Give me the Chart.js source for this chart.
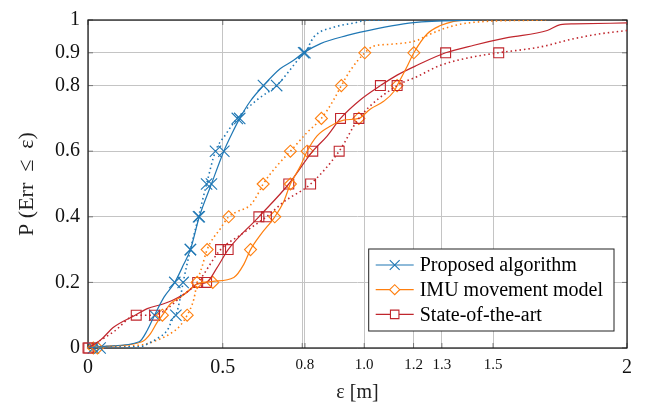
<!DOCTYPE html>
<html>
<head>
<meta charset="utf-8">
<script src="https://cdn.jsdelivr.net/npm/chart.js@4"></script>
<style>
  body { margin: 0; background: #fff; }
  #wrap { width: 648px; height: 411px; }
</style>
</head>
<body>
<div id="wrap"><canvas id="cdf"></canvas></div>
<script>
// ---- data (x = error in m, y = CDF) ----
const markY = [0, 0.1, 0.2, 0.3, 0.4, 0.5, 0.6, 0.7, 0.8, 0.9];

const propSolidX = [0, 0.07, 0.19, 0.22, 0.247, 0.282, 0.322, 0.355, 0.38, 0.413, 0.458, 0.504, 0.532, 0.563, 0.6, 0.651, 0.714, 0.763, 0.80, 0.863, 0.962, 1.011, 1.208, 1.45];
const propSolidY = [0, 0.006, 0.019, 0.054, 0.1, 0.155, 0.2, 0.255, 0.3, 0.4, 0.5, 0.6, 0.65, 0.7, 0.75, 0.8, 0.852, 0.877, 0.9, 0.928, 0.953, 0.963, 0.992, 1.0];
const propSolidMarkX = [0.02, 0.247, 0.322, 0.38, 0.413, 0.458, 0.504, 0.563, 0.651, 0.80];

const propDotX = [0, 0.06, 0.195, 0.22, 0.257, 0.294, 0.318, 0.326, 0.343, 0.353, 0.38, 0.41, 0.44, 0.473, 0.51, 0.554, 0.628, 0.70, 0.739, 0.789, 0.805, 0.838, 0.912, 0.999, 1.02, 1.12];
const propDotY = [0, 0.003, 0.004, 0.012, 0.029, 0.054, 0.094, 0.1, 0.155, 0.2, 0.3, 0.4, 0.5, 0.6, 0.65, 0.7, 0.757, 0.8, 0.837, 0.888, 0.9, 0.948, 0.978, 0.993, 0.998, 1.0];
const propDotMarkX = [0.045, 0.326, 0.353, 0.38, 0.41, 0.44, 0.473, 0.554, 0.70, 0.805];

const imuSolidX = [0, 0.07, 0.2, 0.232, 0.257, 0.276, 0.306, 0.343, 0.38, 0.405, 0.463, 0.541, 0.578, 0.603, 0.64, 0.693, 0.726, 0.751, 0.789, 0.813, 0.85, 0.9, 0.949, 1.005, 1.048, 1.097, 1.135, 1.147, 1.184, 1.209, 1.259, 1.308, 1.357, 1.40];
const imuSolidY = [0, 0.005, 0.019, 0.044, 0.079, 0.1, 0.135, 0.155, 0.18, 0.195, 0.203, 0.215, 0.255, 0.3, 0.345, 0.4, 0.446, 0.5, 0.556, 0.6, 0.647, 0.677, 0.695, 0.7, 0.729, 0.752, 0.782, 0.8, 0.858, 0.9, 0.958, 0.983, 0.996, 1.0];
const imuSolidMarkX = [0.02, 0.276, 0.463, 0.603, 0.693, 0.751, 0.813, 1.005, 1.147, 1.209];

const imuDotX = [0, 0.05, 0.195, 0.257, 0.306, 0.343, 0.368, 0.393, 0.405, 0.424, 0.442, 0.492, 0.522, 0.554, 0.603, 0.628, 0.65, 0.702, 0.751, 0.813, 0.866, 0.912, 0.94, 0.974, 1.027, 1.058, 1.122, 1.222, 1.259, 1.345, 1.432, 1.70];
const imuDotY = [0, 0.004, 0.009, 0.024, 0.044, 0.069, 0.1, 0.15, 0.2, 0.25, 0.3, 0.365, 0.4, 0.416, 0.436, 0.466, 0.5, 0.556, 0.6, 0.657, 0.7, 0.757, 0.8, 0.847, 0.9, 0.92, 0.926, 0.938, 0.953, 0.98, 0.993, 1.0];
const imuDotMarkX = [0.035, 0.368, 0.405, 0.442, 0.522, 0.65, 0.751, 0.866, 0.94, 1.027];

const soaSolidX = [0, 0.046, 0.096, 0.175, 0.22, 0.281, 0.312, 0.368, 0.405, 0.44, 0.479, 0.52, 0.634, 0.745, 0.834, 0.888, 0.937, 1.011, 1.085, 1.147, 1.221, 1.327, 1.432, 1.556, 1.704, 1.753, 1.803, 2.0];
const soaSolidY = [0, 0.024, 0.064, 0.1, 0.12, 0.135, 0.145, 0.17, 0.195, 0.2, 0.245, 0.3, 0.4, 0.5, 0.6, 0.647, 0.7, 0.757, 0.8, 0.832, 0.862, 0.9, 0.923, 0.946, 0.968, 0.986, 0.988, 0.991];
const soaSolidMarkX = [0.003, 0.179, 0.44, 0.52, 0.634, 0.745, 0.834, 0.937, 1.085, 1.327];

const soaDotX = [0, 0.096, 0.179, 0.247, 0.294, 0.343, 0.407, 0.492, 0.566, 0.662, 0.727, 0.826, 0.932, 1.005, 1.147, 1.22, 1.308, 1.432, 1.524, 1.679, 1.803, 1.902, 2.0];
const soaDotY = [0, 0.05, 0.1, 0.1, 0.12, 0.155, 0.2, 0.3, 0.345, 0.4, 0.446, 0.5, 0.6, 0.7, 0.8, 0.827, 0.862, 0.888, 0.9, 0.918, 0.943, 0.958, 0.968];
const soaDotMarkX = [0.0, 0.247, 0.407, 0.492, 0.662, 0.826, 0.932, 1.005, 1.147, 1.524];

const xTickVals = [0, 0.5, 0.795, 0.805, 1.025, 1.208, 1.313, 1.503, 2];
const xTickLabels = ['0', '0.5', '', '0.8', '1.0', '1.2', '1.3', '1.5', '2'];
const yTickVals = [0, 0.2, 0.4, 0.6, 0.8, 0.9, 1];
const yTickLabels = ['0', '0.2', '0.4', '0.6', '0.8', '0.9', '1'];

const seriesNames = ['Proposed algorithm', 'IMU movement model', 'State-of-the-art'];
const colBlue = '#1f77b4', colOrange = '#ff7f0e', colRed = '#c0262d';

const serif = "'Liberation Serif', 'DejaVu Serif', serif";

function pts(xs, ys) {
    return xs.map((x, i) => ({x: x, y: ys[i]}));
}

function lineSet(xs, ys, color, dotted) {
    return {
        data: pts(xs, ys),
        showLine: true,
        borderColor: color,
        borderWidth: dotted ? 1.6 : 1.2,
        borderDash: dotted ? [1.5, 3] : [],
        pointRadius: 0,
        fill: false,
        cubicInterpolationMode: 'monotone'
    };
}

function markSet(xs, color, style, r) {
    return {
        data: pts(xs, markY),
        showLine: false,
        borderColor: color,
        backgroundColor: 'rgba(0,0,0,0)',
        pointStyle: style,
        pointRadius: r,
        pointBorderWidth: 1.1,
        clip: false
    };
}

const markStyles = [['crossRot', 8], ['rectRot', 6], ['rect', 7]];

// frame + inward tick marks like pgfplots
const framePlugin = {
    id: 'frame',
    beforeDatasetsDraw(chart) {
        const {ctx, chartArea: a, scales} = chart;
        ctx.save();
        ctx.strokeStyle = '#777';
        ctx.lineWidth = 1;
        ctx.beginPath();
        xTickVals.forEach(v => {
            const px = scales.x.getPixelForValue(v);
            ctx.moveTo(px, a.bottom); ctx.lineTo(px, a.bottom - 5);
            ctx.moveTo(px, a.top); ctx.lineTo(px, a.top + 5);
        });
        yTickVals.forEach(v => {
            const py = scales.y.getPixelForValue(v);
            ctx.moveTo(a.left, py); ctx.lineTo(a.left + 5, py);
            ctx.moveTo(a.right, py); ctx.lineTo(a.right - 5, py);
        });
        ctx.stroke();
        ctx.strokeStyle = '#111';
        ctx.lineWidth = 1.2;
        ctx.strokeRect(a.left, a.top, a.right - a.left, a.bottom - a.top);
        ctx.restore();
    }
};

// legend box with line + marker samples
const legendPlugin = {
    id: 'boxLegend',
    afterDatasetsDraw(chart) {
        const {ctx, chartArea: a} = chart;
        const colors = [colBlue, colOrange, colRed];
        ctx.save();
        ctx.font = '20px ' + serif;
        const tw = Math.max(...seriesNames.map(s => ctx.measureText(s).width));
        const w = tw + 62, h = 82;
        const x0 = a.right - 13 - w, y0 = a.bottom - 17 - h;
        ctx.fillStyle = '#fff';
        ctx.fillRect(x0, y0, w, h);
        ctx.strokeStyle = '#222';
        ctx.lineWidth = 1;
        ctx.strokeRect(x0, y0, w, h);
        seriesNames.forEach((name, i) => {
            const cy = y0 + 16 + i * 24.7;
            ctx.strokeStyle = colors[i];
            ctx.lineWidth = 1.2;
            ctx.beginPath();
            ctx.moveTo(x0 + 7, cy); ctx.lineTo(x0 + 45, cy);
            ctx.stroke();
            ctx.fillStyle = '#fff';
            ctx.lineWidth = 1.1;
            Chart.helpers.drawPoint(ctx, {pointStyle: markStyles[i][0], radius: markStyles[i][1] - 1, borderWidth: 1.1, rotation: 0}, x0 + 26, cy);
            ctx.fillStyle = '#000';
            ctx.textBaseline = 'middle';
            ctx.fillText(name, x0 + 51, cy + 1);
        });
        ctx.restore();
    }
};

const datasets = [
    lineSet(propDotX, propDotY, colBlue, true),
    lineSet(imuDotX, imuDotY, colOrange, true),
    lineSet(soaDotX, soaDotY, colRed, true),
    lineSet(propSolidX, propSolidY, colBlue, false),
    lineSet(imuSolidX, imuSolidY, colOrange, false),
    lineSet(soaSolidX, soaSolidY, colRed, false),
    markSet(propDotMarkX, colBlue, 'crossRot', 8),
    markSet(imuDotMarkX, colOrange, 'rectRot', 6),
    markSet(soaDotMarkX, colRed, 'rect', 7),
    markSet(propSolidMarkX, colBlue, 'crossRot', 8),
    markSet(imuSolidMarkX, colOrange, 'rectRot', 6),
    markSet(soaSolidMarkX, colRed, 'rect', 7)
];

const ctx = document.getElementById('cdf').getContext('2d');
const chart = new Chart(ctx, {
    type: 'scatter',
    data: { datasets: datasets },
    options: {
        responsive: true,
        maintainAspectRatio: false,
        animation: false,
        layout: { padding: { left: 0, right: 21, top: 16, bottom: 0 } },
        plugins: {
            legend: { display: false },
            tooltip: { enabled: false }
        },
        scales: {
            x: {
                type: 'linear',
                min: 0,
                max: 2,
                afterBuildTicks: (axis) => { axis.ticks = xTickVals.map(v => ({value: v})); },
                afterFit: (axis) => { axis.height = 63; },
                grid: { color: '#c4c4c4', lineWidth: 1, drawTicks: false },
                border: { display: false },
                ticks: {
                    autoSkip: false,
                    maxRotation: 0,
                    padding: 8,
                    color: '#111',
                    font: (c) => ({ family: serif, size: (c.tick && [0, 0.5, 2].includes(c.tick.value)) ? 20 : 15 }),
                    callback: (v, i) => xTickLabels[i]
                },
                title: {
                    display: true,
                    text: 'ε [m]',
                    color: '#222',
                    font: { family: serif, size: 20 },
                    padding: { top: 0, bottom: 6 }
                }
            },
            y: {
                type: 'linear',
                min: 0,
                max: 1,
                afterBuildTicks: (axis) => { axis.ticks = yTickVals.map(v => ({value: v})); },
                afterFit: (axis) => { axis.width = 88; },
                grid: { color: '#c4c4c4', lineWidth: 1, drawTicks: false },
                border: { display: false },
                ticks: {
                    autoSkip: false,
                    padding: 8,
                    color: '#111',
                    font: { family: serif, size: 20 },
                    callback: (v, i) => yTickLabels[i]
                },
                title: {
                    display: true,
                    text: 'P (Err  ≤  ε)',
                    color: '#222',
                    font: { family: serif, size: 22 },
                    padding: { top: 14, bottom: 0 }
                }
            }
        }
    },
    plugins: [framePlugin, legendPlugin]
});
</script>
</body>
</html>
